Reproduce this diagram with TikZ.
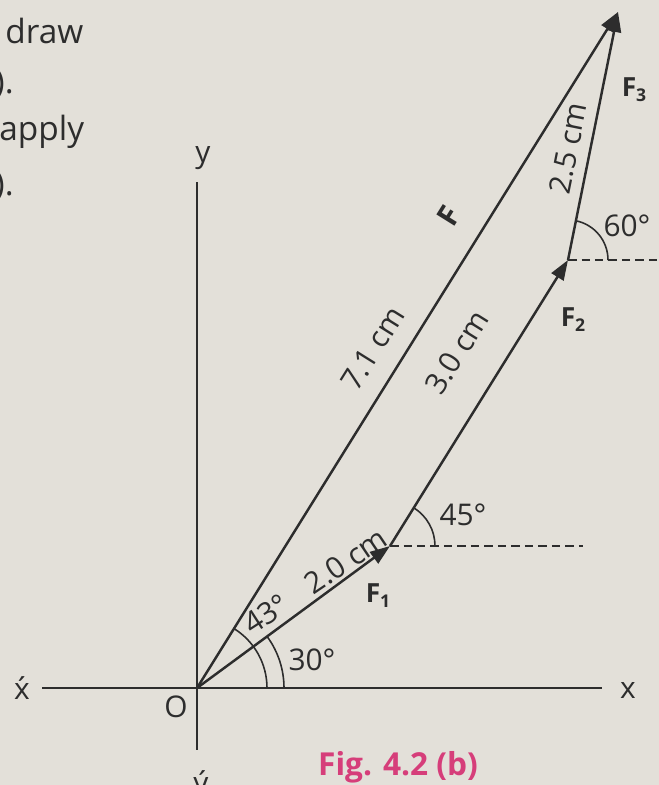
\documentclass[tikz,border=0pt]{standalone}
\usepackage{fontspec}
\setmainfont{Open Sans}
\usetikzlibrary{arrows.meta}
\definecolor{paper}{RGB}{227,224,217}
\definecolor{ink}{RGB}{45,45,45}
\definecolor{figpink}{RGB}{214,62,122}
\newcommand{\sbs}[1]{\raisebox{-0.35ex}{\fontsize{10}{12}\selectfont\bfseries #1}}
\begin{document}
\begin{tikzpicture}[x=0.02cm,y=-0.02cm,
  vec/.style={line width=1.4pt, draw=ink, -{Triangle[length=0.4cm,width=0.28cm]}},
  axis/.style={line width=1.1pt, draw=ink},
  guide/.style={line width=0.9pt, draw=ink, dash pattern=on 0.17cm off 0.1cm},
  anglearc/.style={line width=0.9pt, draw=ink},
  lbl/.style={text=ink, font=\fontsize{17}{20}\selectfont, inner sep=0pt},
  flbl/.style={text=ink, font=\fontsize{15}{18}\selectfont\bfseries, inner sep=0pt},
  page/.style={text=ink, font=\fontsize{19}{23}\selectfont, inner sep=0pt}]
\fill[paper] (0,0) rectangle (659,785);
\useasboundingbox (0,0) rectangle (659,785);
% points
\coordinate (O) at (197,688);
\coordinate (A) at (390,546);
\coordinate (B) at (568,260);
\coordinate (C) at (618,12);
\coordinate (xl) at (42,688);
\coordinate (xr) at (602,688);
\coordinate (yt) at (197,182);
\coordinate (yb) at (197,750);
\coordinate (Ad) at (583,546);
\coordinate (Bd) at (659,260);
% axes
\draw[axis] (xl) -- (xr);
\draw[axis] (yt) -- (yb);
% guides
\draw[guide] (A) -- (Ad);
\draw[guide] (B) -- (Bd);
% angle arcs
\draw[anglearc] (O) ++(87,0) arc[start angle=0,end angle=-36.3,radius=87];
\draw[anglearc] (O) ++(70,0) arc[start angle=0,end angle=-58.1,radius=70];
\draw[anglearc] (A) ++(45,0) arc[start angle=0,end angle=-58.1,radius=45];
\draw[anglearc] (B) ++(40,0) arc[start angle=0,end angle=-78.6,radius=40];
% vectors
\draw[vec] (O) -- (A);
\draw[vec] (A) -- (B);
\draw[vec] (B) -- (C);
\draw[vec] (O) -- (C);
% axis labels
\node[lbl] (ylab) at (203,158) {y};
\node[lbl] (xplab) at (22,688) {\'x};
\node[lbl] (olab) at (176,707) {O};
\node[lbl] (xlab) at (628,690) {x};
\node[lbl] (yblab) at (201,786) {\'y};
% measurement labels
\node[lbl, rotate=58] (l71) at (373,348) {7.1 cm};
\node[flbl, rotate=58, font=\fontsize{17}{20}\selectfont\bfseries] (Flab) at (449,216) {F};
\node[lbl, rotate=58] (l30) at (457,352) {3.0 cm};
\node[lbl, rotate=78.6] (l25) at (568,148) {2.5 cm};
\node[lbl, rotate=34] (l20) at (346,561) {2.0 cm};
\node[lbl, rotate=33] (l43) at (266,614) {43°};
\node[lbl] (l30d) at (312,660) {30°};
\node[lbl] (l45) at (463,515) {45°};
\node[lbl] (l60) at (627,226) {60°};
% force labels
\node[flbl] (F1) at (378,596) {F\sbs{1}};
\node[flbl] (F2) at (573,320) {F\sbs{2}};
\node[flbl] (F3) at (634,90) {F\sbs{3}};
% page text
\node[page, anchor=west] (t1) at (5,31) {draw};
\node[page, anchor=east] (t2) at (14,84) {).};
\node[page, anchor=west] (t3) at (-1,132) {apply};
\node[page, anchor=east] (t4) at (14,186) {).};
% caption
\node[text=figpink, font=\fontsize{18}{22}\selectfont\bfseries, inner sep=0pt] (cap) at (398,767) {Fig. 4.2 (b)};
\end{tikzpicture}
\end{document}
